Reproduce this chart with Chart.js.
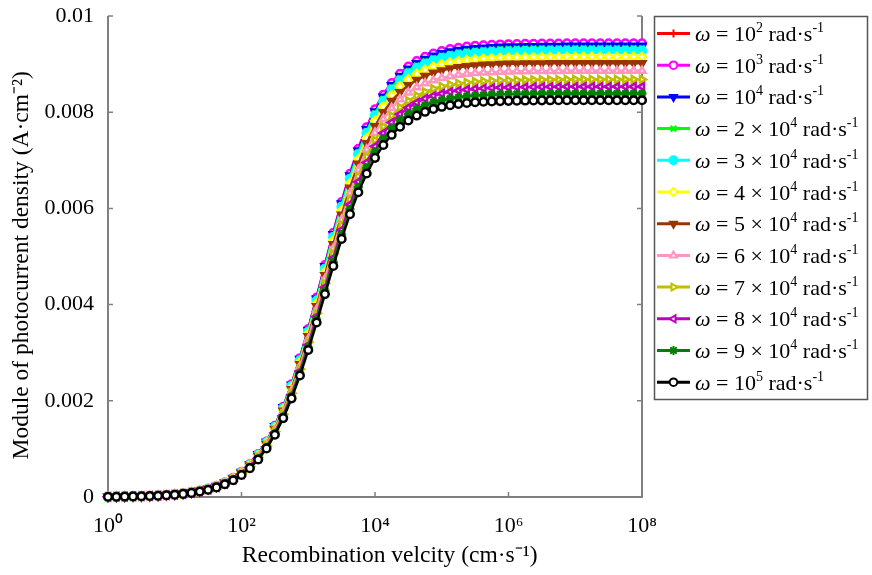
<!DOCTYPE html>
<html>
<head>
<meta charset="utf-8">
<script src="https://cdn.jsdelivr.net/npm/chart.js"></script>
<style>
  body { margin: 0; background: #fff; }
  #wrap { width: 872px; height: 575px; }
</style>
</head>
<body>
<div id="wrap"><canvas id="myChart" width="872" height="575"></canvas></div>
<script>
// recombination velocity (cm/s), 8 points per decade
let velocity = [
  1, 1.334, 1.778, 2.371, 3.162, 4.217, 5.623, 7.499,
  10, 13.34, 17.78, 23.71, 31.62, 42.17, 56.23, 74.99,
  100, 133.4, 177.8, 237.1, 316.2, 421.7, 562.3, 749.9,
  1000, 1334, 1778, 2371, 3162, 4217, 5623, 7499,
  1e4, 1.334e4, 1.778e4, 2.371e4, 3.162e4, 4.217e4, 5.623e4, 7.499e4,
  1e5, 1.334e5, 1.778e5, 2.371e5, 3.162e5, 4.217e5, 5.623e5, 7.499e5,
  1e6, 1.334e6, 1.778e6, 2.371e6, 3.162e6, 4.217e6, 5.623e6, 7.499e6,
  1e7, 1.334e7, 1.778e7, 2.371e7, 3.162e7, 4.217e7, 5.623e7, 7.499e7,
  1e8
];

// module of photocurrent density (A/cm2), one list per pulsation
let w1e2 = [
  0.000006, 0.000007, 0.000010, 0.000013, 0.000018, 0.000023, 0.000031, 0.000041,
  0.000055, 0.000073, 0.000098, 0.000130, 0.000172, 0.000228, 0.000302, 0.000399,
  0.000524, 0.000687, 0.000894, 0.001156, 0.001481, 0.001876, 0.002347, 0.002889,
  0.003496, 0.004150, 0.004826, 0.005498, 0.006139, 0.006728, 0.007249, 0.007695,
  0.008068, 0.008373, 0.008616, 0.008809, 0.008958, 0.009074, 0.009163, 0.009231,
  0.009282, 0.009321, 0.009351, 0.009373, 0.009389, 0.009402, 0.009412, 0.009419,
  0.009424, 0.009428, 0.009431, 0.009433, 0.009435, 0.009436, 0.009437, 0.00944,
  0.00944, 0.00944, 0.00944, 0.00944, 0.00944, 0.00944, 0.00944, 0.00944,
  0.00944
];
let w1e3 = [
  0.000006, 0.000007, 0.000010, 0.000013, 0.000018, 0.000023, 0.000031, 0.000041,
  0.000055, 0.000073, 0.000098, 0.000130, 0.000172, 0.000228, 0.000302, 0.000398,
  0.000524, 0.000686, 0.000893, 0.001154, 0.001479, 0.001874, 0.002344, 0.002886,
  0.003493, 0.004145, 0.004821, 0.005493, 0.006133, 0.006721, 0.007241, 0.007687,
  0.008060, 0.008364, 0.008607, 0.008799, 0.008949, 0.009065, 0.009153, 0.009221,
  0.009272, 0.009311, 0.009341, 0.009363, 0.009380, 0.009392, 0.009402, 0.009409,
  0.009414, 0.009418, 0.009421, 0.009423, 0.009425, 0.009426, 0.009427, 0.00943,
  0.00943, 0.00943, 0.00943, 0.00943, 0.00943, 0.00943, 0.00943, 0.00943,
  0.00943
];
let w1e4 = [
  0.000006, 0.000007, 0.000010, 0.000013, 0.000017, 0.000023, 0.000031, 0.000041,
  0.000055, 0.000073, 0.000097, 0.000129, 0.000171, 0.000227, 0.000300, 0.000396,
  0.000521, 0.000682, 0.000888, 0.001148, 0.001471, 0.001864, 0.002332, 0.002871,
  0.003474, 0.004123, 0.004796, 0.005463, 0.006100, 0.006685, 0.007203, 0.007646,
  0.008017, 0.008319, 0.008561, 0.008753, 0.008901, 0.009017, 0.009105, 0.009172,
  0.009223, 0.009262, 0.009291, 0.009313, 0.009330, 0.009342, 0.009352, 0.009359,
  0.009364, 0.009368, 0.009371, 0.009373, 0.009375, 0.009376, 0.009377, 0.00938,
  0.00938, 0.00938, 0.00938, 0.00938, 0.00938, 0.00938, 0.00938, 0.00938,
  0.00938
];
let w2e4 = [
  0.000005, 0.000007, 0.000010, 0.000013, 0.000017, 0.000023, 0.000031, 0.000041,
  0.000055, 0.000073, 0.000097, 0.000128, 0.000170, 0.000226, 0.000299, 0.000394,
  0.000518, 0.000679, 0.000884, 0.001142, 0.001463, 0.001854, 0.002319, 0.002856,
  0.003456, 0.004101, 0.004770, 0.005434, 0.006068, 0.006649, 0.007164, 0.007606,
  0.007974, 0.008275, 0.008516, 0.008706, 0.008854, 0.008968, 0.009056, 0.009123,
  0.009174, 0.009213, 0.009242, 0.009264, 0.009280, 0.009293, 0.009302, 0.009309,
  0.009314, 0.009318, 0.009321, 0.009323, 0.009325, 0.009326, 0.009327, 0.00933,
  0.00933, 0.00933, 0.00933, 0.00933, 0.00933, 0.00933, 0.00933, 0.00933,
  0.00933
];
let w3e4 = [
  0.000005, 0.000007, 0.000010, 0.000013, 0.000017, 0.000023, 0.000031, 0.000041,
  0.000054, 0.000072, 0.000096, 0.000128, 0.000169, 0.000225, 0.000297, 0.000392,
  0.000516, 0.000675, 0.000879, 0.001136, 0.001455, 0.001845, 0.002307, 0.002841,
  0.003437, 0.004079, 0.004745, 0.005405, 0.006035, 0.006614, 0.007126, 0.007565,
  0.007932, 0.008231, 0.008470, 0.008659, 0.008807, 0.008920, 0.009008, 0.009074,
  0.009125, 0.009163, 0.009192, 0.009214, 0.009230, 0.009243, 0.009252, 0.009259,
  0.009264, 0.009268, 0.009271, 0.009273, 0.009275, 0.009276, 0.009277, 0.00928,
  0.00928, 0.00928, 0.00928, 0.00928, 0.00928, 0.00928, 0.00928, 0.00928,
  0.00928
];
let w4e4 = [
  0.000005, 0.000007, 0.000010, 0.000013, 0.000017, 0.000023, 0.000030, 0.000040,
  0.000054, 0.000071, 0.000095, 0.000126, 0.000167, 0.000221, 0.000293, 0.000387,
  0.000508, 0.000666, 0.000867, 0.001120, 0.001435, 0.001819, 0.002274, 0.002801,
  0.003389, 0.004022, 0.004678, 0.005329, 0.005951, 0.006521, 0.007026, 0.007459,
  0.007821, 0.008115, 0.008352, 0.008538, 0.008683, 0.008795, 0.008881, 0.008947,
  0.008997, 0.009035, 0.009063, 0.009085, 0.009101, 0.009113, 0.009122, 0.009129,
  0.009134, 0.009138, 0.009141, 0.009143, 0.009145, 0.009146, 0.009147, 0.00915,
  0.00915, 0.00915, 0.00915, 0.00915, 0.00915, 0.00915, 0.00915, 0.00915,
  0.00915
];
let w5e4 = [
  0.000005, 0.000007, 0.000009, 0.000013, 0.000017, 0.000022, 0.000030, 0.000040,
  0.000053, 0.000070, 0.000093, 0.000124, 0.000165, 0.000218, 0.000289, 0.000381,
  0.000501, 0.000656, 0.000854, 0.001104, 0.001415, 0.001793, 0.002242, 0.002761,
  0.003341, 0.003965, 0.004612, 0.005254, 0.005866, 0.006428, 0.006926, 0.007353,
  0.007709, 0.008000, 0.008233, 0.008417, 0.008560, 0.008670, 0.008755, 0.008820,
  0.008869, 0.008906, 0.008935, 0.008956, 0.008972, 0.008984, 0.008993, 0.009000,
  0.009005, 0.009009, 0.009011, 0.009014, 0.009015, 0.009016, 0.009017, 0.00902,
  0.00902, 0.00902, 0.00902, 0.00902, 0.00902, 0.00902, 0.00902, 0.00902,
  0.00902
];
let w6e4 = [
  0.000005, 0.000007, 0.000009, 0.000012, 0.000016, 0.000022, 0.000029, 0.000039,
  0.000052, 0.000069, 0.000092, 0.000122, 0.000162, 0.000214, 0.000284, 0.000374,
  0.000492, 0.000644, 0.000839, 0.001085, 0.001390, 0.001761, 0.002202, 0.002712,
  0.003281, 0.003895, 0.004530, 0.005161, 0.005762, 0.006314, 0.006803, 0.007223,
  0.007573, 0.007858, 0.008087, 0.008267, 0.008408, 0.008517, 0.008600, 0.008664,
  0.008712, 0.008748, 0.008776, 0.008797, 0.008813, 0.008824, 0.008833, 0.008840,
  0.008845, 0.008849, 0.008851, 0.008854, 0.008855, 0.008856, 0.008857, 0.00886,
  0.00886, 0.00886, 0.00886, 0.00886, 0.00886, 0.00886, 0.00886, 0.00886,
  0.00886
];
let w7e4 = [
  0.000005, 0.000007, 0.000009, 0.000012, 0.000016, 0.000021, 0.000029, 0.000038,
  0.000051, 0.000068, 0.000090, 0.000119, 0.000159, 0.000210, 0.000278, 0.000367,
  0.000482, 0.000631, 0.000822, 0.001063, 0.001361, 0.001725, 0.002158, 0.002657,
  0.003215, 0.003816, 0.004438, 0.005056, 0.005645, 0.006186, 0.006665, 0.007076,
  0.007419, 0.007699, 0.007923, 0.008099, 0.008237, 0.008344, 0.008425, 0.008488,
  0.008535, 0.008571, 0.008598, 0.008618, 0.008634, 0.008645, 0.008654, 0.008660,
  0.008665, 0.008669, 0.008672, 0.008674, 0.008675, 0.008677, 0.008677, 0.00868,
  0.00868, 0.00868, 0.00868, 0.00868, 0.00868, 0.00868, 0.00868, 0.00868,
  0.00868
];
let w8e4 = [
  0.000005, 0.000007, 0.000009, 0.000012, 0.000016, 0.000021, 0.000028, 0.000037,
  0.000050, 0.000066, 0.000088, 0.000117, 0.000156, 0.000206, 0.000273, 0.000360,
  0.000474, 0.000620, 0.000808, 0.001044, 0.001338, 0.001695, 0.002120, 0.002611,
  0.003159, 0.003750, 0.004361, 0.004968, 0.005548, 0.006079, 0.006550, 0.006954,
  0.007291, 0.007566, 0.007786, 0.007959, 0.008095, 0.008199, 0.008280, 0.008341,
  0.008387, 0.008423, 0.008449, 0.008469, 0.008484, 0.008496, 0.008504, 0.008511,
  0.008516, 0.008519, 0.008522, 0.008524, 0.008525, 0.008527, 0.008527, 0.00853,
  0.00853, 0.00853, 0.00853, 0.00853, 0.00853, 0.00853, 0.00853, 0.00853,
  0.00853
];
let w9e4 = [
  0.000005, 0.000007, 0.000009, 0.000012, 0.000016, 0.000021, 0.000028, 0.000037,
  0.000049, 0.000065, 0.000087, 0.000115, 0.000153, 0.000203, 0.000269, 0.000354,
  0.000466, 0.000610, 0.000795, 0.001027, 0.001316, 0.001668, 0.002086, 0.002568,
  0.003107, 0.003688, 0.004289, 0.004887, 0.005457, 0.005980, 0.006442, 0.006839,
  0.007171, 0.007441, 0.007658, 0.007829, 0.007962, 0.008065, 0.008144, 0.008204,
  0.008250, 0.008284, 0.008311, 0.008330, 0.008345, 0.008356, 0.008365, 0.008371,
  0.008376, 0.008379, 0.008382, 0.008384, 0.008385, 0.008387, 0.008387, 0.00839,
  0.00839, 0.00839, 0.00839, 0.00839, 0.00839, 0.00839, 0.00839, 0.00839,
  0.00839
];
let w1e5 = [
  0.000005, 0.000006, 0.000009, 0.000012, 0.000015, 0.000020, 0.000027, 0.000036,
  0.000048, 0.000064, 0.000085, 0.000114, 0.000151, 0.000200, 0.000264, 0.000349,
  0.000458, 0.000600, 0.000781, 0.001010, 0.001294, 0.001640, 0.002051, 0.002525,
  0.003056, 0.003627, 0.004218, 0.004805, 0.005366, 0.005880, 0.006335, 0.006725,
  0.007051, 0.007317, 0.007530, 0.007698, 0.007829, 0.007930, 0.008008, 0.008067,
  0.008112, 0.008146, 0.008172, 0.008191, 0.008206, 0.008217, 0.008225, 0.008231,
  0.008236, 0.008240, 0.008242, 0.008244, 0.008246, 0.008247, 0.008248, 0.00825,
  0.00825, 0.00825, 0.00825, 0.00825, 0.00825, 0.00825, 0.00825, 0.00825,
  0.00825
];

// legend text, {..} = superscript
let legendLabels = [
  'ω = 10{2} rad·s{-1}',
  'ω = 10{3} rad·s{-1}',
  'ω = 10{4} rad·s{-1}',
  'ω = 2 × 10{4} rad·s{-1}',
  'ω = 3 × 10{4} rad·s{-1}',
  'ω = 4 × 10{4} rad·s{-1}',
  'ω = 5 × 10{4} rad·s{-1}',
  'ω = 6 × 10{4} rad·s{-1}',
  'ω = 7 × 10{4} rad·s{-1}',
  'ω = 8 × 10{4} rad·s{-1}',
  'ω = 9 × 10{4} rad·s{-1}',
  'ω = 10{5} rad·s{-1}'
];

let xTicks = [1, 1e2, 1e4, 1e6, 1e8];
let xTickLabels = ['10⁰', '10²', '10⁴', '10⁶', '10⁸'];
let yTicks = [0, 0.002, 0.004, 0.006, 0.008, 0.01];
let yTickLabels = ['0', '0.002', '0.004', '0.006', '0.008', '0.01'];

let series = [w1e2, w1e3, w1e4, w2e4, w3e4, w4e4, w5e4, w6e4, w7e4, w8e4, w9e4, w1e5];
let colors = ['#ff0000', '#ff00ff', '#0000ff', '#00ff00', '#00ffff', '#ffff00',
              '#9a3300', '#ff96c0', '#bfbf00', '#c000c0', '#008000', '#000000'];
let markers = [
  { style: 'cross', rot: 0, open: false, r: 4 },
  { style: 'circle', rot: 0, open: true, r: 3.8 },
  { style: 'triangle', rot: 180, open: false, r: 4 },
  { style: 'crossRot', rot: 0, open: false, r: 4 },
  { style: 'circle', rot: 0, open: false, r: 4 },
  { style: 'rectRot', rot: 0, open: true, r: 4 },
  { style: 'triangle', rot: 180, open: false, r: 4 },
  { style: 'triangle', rot: 0, open: true, r: 4 },
  { style: 'triangle', rot: 90, open: true, r: 4 },
  { style: 'triangle', rot: -90, open: true, r: 4 },
  { style: 'star', rot: 0, open: false, r: 4.5 },
  { style: 'circle', rot: 0, open: true, r: 3.8 }
];

const serif = "'Liberation Serif', 'Times New Roman', serif";

let datasets = series.map((ys, i) => ({
  label: legendLabels[i],
  data: velocity.map((v, j) => ({ x: v, y: ys[j] })),
  borderColor: colors[i],
  backgroundColor: colors[i],
  borderWidth: 2.5,
  pointStyle: markers[i].style,
  pointRotation: markers[i].rot,
  pointRadius: markers[i].r,
  pointBorderWidth: 2.5,
  pointBorderColor: colors[i],
  pointBackgroundColor: markers[i].open ? '#ffffff' : colors[i],
  order: 12 - i,   // later curves on top, like the original
  clip: false
}));

// axis lines left, bottom and right, small inward ticks
let frame = {
  id: 'frame',
  beforeDatasetsDraw(chart) {
    let { ctx, chartArea: a, scales } = chart;
    ctx.save();
    ctx.strokeStyle = '#808080';
    ctx.lineWidth = 2;
    ctx.beginPath();
    ctx.moveTo(a.left, a.top);
    ctx.lineTo(a.left, a.bottom);
    ctx.lineTo(a.right, a.bottom);
    ctx.lineTo(a.right, a.top);
    ctx.stroke();
    ctx.lineWidth = 1.5;
    ctx.beginPath();
    xTicks.forEach(v => {
      let px = scales.x.getPixelForValue(v);
      ctx.moveTo(px, a.bottom); ctx.lineTo(px, a.bottom - 5);
    });
    yTicks.forEach(v => {
      let py = scales.y.getPixelForValue(v);
      ctx.moveTo(a.left, py); ctx.lineTo(a.left + 5, py);
      ctx.moveTo(a.right, py); ctx.lineTo(a.right - 5, py);
    });
    ctx.stroke();
    ctx.restore();
  }
};

function drawRich(ctx, text, x, base) {
  let parts = text.split(/(\{[^}]*\})/);
  parts.forEach(p => {
    if (!p) return;
    if (p[0] === '{') {
      let s = p.slice(1, -1);
      ctx.font = '14px ' + serif;
      ctx.fillText(s, x, base - 9);
      x += ctx.measureText(s).width;
    } else {
      if (p[0] === 'ω') {
        ctx.font = 'italic 22px ' + serif;
        ctx.fillText('ω', x, base);
        x += ctx.measureText('ω').width;
        p = p.slice(1);
      }
      ctx.font = '22px ' + serif;
      ctx.fillText(p, x, base);
      x += ctx.measureText(p).width;
    }
  });
}

let legendBox = {
  id: 'legendBox',
  afterDraw(chart) {
    let ctx = chart.ctx;
    ctx.save();
    ctx.strokeStyle = '#555555';
    ctx.lineWidth = 1.5;
    ctx.strokeRect(654.5, 16.5, 213, 383);
    chart.data.datasets.forEach((ds, i) => {
      let y = 33.5 + i * 31.7;
      ctx.strokeStyle = ds.borderColor;
      ctx.lineWidth = 3;
      ctx.beginPath();
      ctx.moveTo(657, y);
      ctx.lineTo(690, y);
      ctx.stroke();
      ctx.fillStyle = ds.pointBackgroundColor;
      ctx.lineWidth = 2;
      Chart.helpers.drawPoint(ctx, {
        pointStyle: ds.pointStyle, rotation: ds.pointRotation,
        radius: ds.pointRadius, borderWidth: 2
      }, 673.5, y);
      ctx.fillStyle = '#000';
      ctx.textBaseline = 'alphabetic';
      drawRich(ctx, ds.label, 695, y + 7.5);
    });
    ctx.restore();
  }
};

let ctx = document.getElementById('myChart').getContext('2d');
let myChart = new Chart(ctx, {
  type: 'line',
  data: { datasets: datasets },
  options: {
    responsive: false,
    animation: false,
    layout: { padding: { left: 0, right: 230, top: 16, bottom: 0 } },
    plugins: {
      legend: { display: false },
      tooltip: { enabled: false }
    },
    scales: {
      x: {
        type: 'logarithmic',
        min: 1,
        max: 1e8,
        afterBuildTicks: s => { s.ticks = xTicks.map(v => ({ value: v })); },
        afterFit: s => { s.height = 78; s.paddingLeft = 0; s.paddingRight = 0; },
        grid: { display: false },
        border: { display: false },
        ticks: {
          autoSkip: false,
          maxRotation: 0,
          padding: 8,
          color: '#000',
          font: { family: serif, size: 22 },
          callback: v => xTickLabels[xTicks.indexOf(v)]
        },
        title: {
          display: true,
          // leading spaces: the original title sits a little right of centre
          text: '     Recombination velcity (cm·s⁻¹)',
          color: '#000',
          font: { family: serif, size: 23.5 },
          padding: { top: 0, bottom: 5 }
        }
      },
      y: {
        min: 0,
        max: 0.01,
        afterBuildTicks: s => { s.ticks = yTicks.map(v => ({ value: v })); },
        afterFit: s => { s.width = 108; s.paddingTop = 0; s.paddingBottom = 0; },
        grid: { display: false },
        border: { display: false },
        ticks: {
          padding: 6,
          color: '#000',
          font: { family: serif, size: 22 },
          callback: v => yTickLabels[yTicks.indexOf(v)]
        },
        title: {
          display: true,
          text: 'Module of photocurrent density (A·cm⁻²)   ',
          color: '#000',
          font: { family: serif, size: 23.5 },
          padding: { top: 8, bottom: 0 }
        }
      }
    }
  },
  plugins: [frame, legendBox]
});
</script>
</body>
</html>
